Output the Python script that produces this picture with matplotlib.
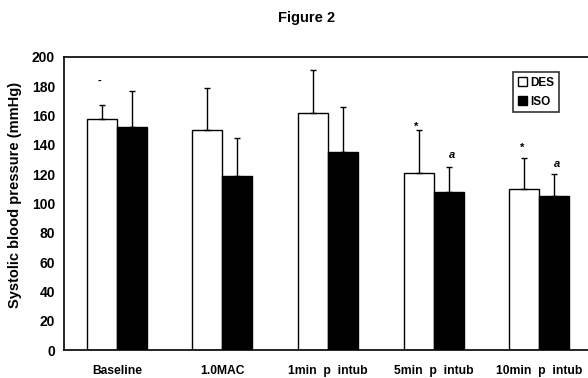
import matplotlib

matplotlib.use("Agg")
import matplotlib.pyplot as plt
import numpy as np
from matplotlib.patches import Patch

# values (mmHg)
categories = ["Baseline", "1.0MAC", "1min  p  intub", "5min  p  intub", "10min  p  intub"]
des_mean = [158, 150, 162, 121, 110]
des_sd = [9, 29, 29, 29, 21]
iso_mean = [152, 119, 135, 108, 105]
iso_sd = [25, 26, 31, 17, 15]

# significance marks: (category index, series, label, y)
marks = [
    (0, "des", "-", 184),
    (3, "des", "*", 152),
    (3, "iso", "a", 133),
    (4, "des", "*", 138),
    (4, "iso", "a", 127),
]

plt.rcParams["font.family"] = ["Liberation Sans", "DejaVu Sans"]
plt.rcParams["font.weight"] = "bold"

fig = plt.figure(figsize=(5.88, 3.78), dpi=100)
ax = fig.add_axes([64 / 588, 1 - 350 / 378, 528 / 588, 293 / 378])

x = np.arange(len(categories))
w = 0.285
err_kw = dict(ecolor="black", elinewidth=1.0, capsize=2.5, capthick=1.0)
ax.bar(x - w / 2, des_mean, w, color="white", edgecolor="black", linewidth=1.0,
       yerr=[np.zeros(len(x)), des_sd], error_kw=err_kw, label="DES")
ax.bar(x + w / 2, iso_mean, w, color="black", edgecolor="black", linewidth=1.0,
       yerr=[np.zeros(len(x)), iso_sd], error_kw=err_kw, label="ISO")

for i, series, txt, yv in marks:
    xs = x[i] - w / 2 if series == "des" else x[i] + w / 2
    ax.text(xs - 0.02 if series == "des" else xs + 0.03, yv, txt, ha="center", va="center",
            fontsize=8, fontstyle="italic" if txt == "a" else "normal")

ax.set_xlim(-0.5, 4.5)
ax.set_ylim(0, 200)
ax.set_yticks(np.arange(0, 201, 20))
ax.set_xticks(x)
ax.set_xticklabels(categories, fontsize=8.7, fontweight="bold")
ax.tick_params(axis="y", length=0, pad=6.5, labelsize=10)
ax.tick_params(axis="x", length=0, pad=11)
for lbl in ax.get_yticklabels():
    lbl.set_fontweight("bold")
for s in ["left", "top", "bottom"]:
    ax.spines[s].set_linewidth(1.2)
ax.spines["right"].set_visible(False)

ax.set_ylabel("Systolic blood pressure (mmHg)", fontsize=10.5, fontweight="bold")
ax.yaxis.set_label_coords(-(64 - 22) / 528, (350 - 195) / 293)

leg = ax.legend(handles=[Patch(facecolor="white", edgecolor="black", label="DES"),
                         Patch(facecolor="black", edgecolor="black", label="ISO")],
                loc="upper left", bbox_to_anchor=(0.85, 0.949), fontsize=8.5,
                frameon=True, fancybox=False, handlelength=0.8, handleheight=0.8,
                handletextpad=0.25, borderpad=0.4, labelspacing=0.6, borderaxespad=0)
leg.get_frame().set_edgecolor("black")
leg.get_frame().set_linewidth(1.2)

fig.text(0.522, 1 - 18 / 378, "Figure 2", ha="center", va="center", fontsize=10.5, fontweight="bold")

fig.savefig("out.png", dpi=100)
